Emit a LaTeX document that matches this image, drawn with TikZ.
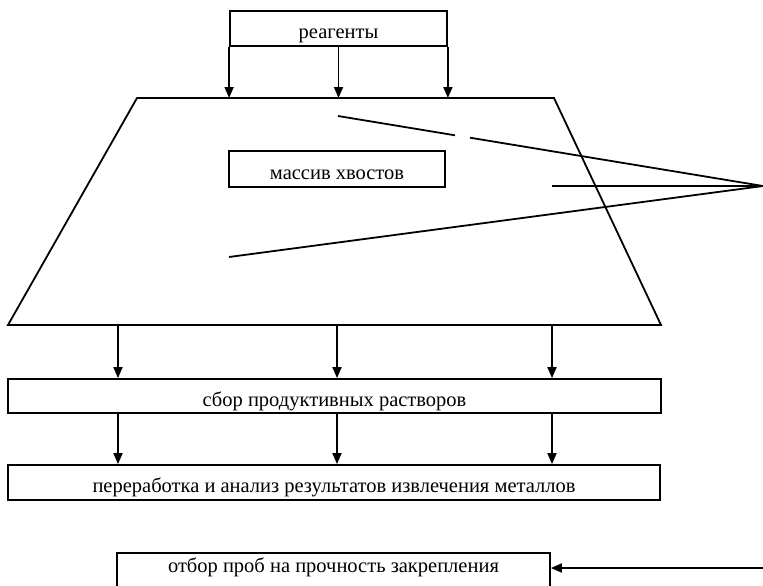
\documentclass[tikz,border=0pt]{standalone}
\usepackage{fontspec}
\setmainfont{Liberation Serif}
\usetikzlibrary{arrows.meta}
\newcommand{\lowtxt}[2][10pt]{\raisebox{-#1}{#2}}
\begin{document}
\begin{tikzpicture}[x=1pt,y=-1pt,
  ln/.style={line width=1.8pt, line join=miter},
  arr/.style={ln, -{Triangle[length=11pt,width=9pt]}},
  box/.style={draw, ln, inner sep=0pt, text height=5pt, text depth=5pt,
    font=\fontsize{20.5}{24}\selectfont}]
\useasboundingbox[fill=white] (0,0) rectangle (763,586);
% top box
\node[box, minimum width=217pt, minimum height=35pt] (reag) at (338.5,28.5) {\lowtxt{реагенты}};
% trapezoid
\coordinate (tl) at (137,98);
\coordinate (tr) at (554,98);
\coordinate (br) at (661,325);
\coordinate (bl) at (8,325);
\draw[ln] (tl) -- (tr) -- (br) -- (bl) -- cycle;
\draw[arr] (reag.south west) -- (reag.south west |- tl);
\draw[arr] (reag.south) -- (reag.south |- tl);
\draw[arr] (reag.south east) -- (reag.south east |- tl);
% inner box
\node[box, minimum width=216pt, minimum height=36pt] (mass) at (337,169) {\lowtxt{массив хвостов}};
% lines to apex
\coordinate (apex) at (763,186);
\coordinate (u1) at (338,116);
\coordinate (u2) at (455,135.3);
\coordinate (u3) at (470,137.7);
\coordinate (h1) at (552,186);
\coordinate (l1) at (229,257);
\draw[ln] (u1) -- (u2);
\draw[ln] (u3) -- (apex);
\draw[ln] (h1) -- (apex);
\draw[ln] (l1) -- (apex);
% lower boxes
\node[box, minimum width=653pt, minimum height=34pt] (sbor) at (334.5,396) {\lowtxt{сбор продуктивных растворов}};
\node[box, minimum width=652pt, minimum height=35pt] (pere) at (334,482.5) {\lowtxt{переработка и анализ результатов извлечения металлов}};
\coordinate (c1) at (118,325);
\coordinate (c2) at (337,325);
\coordinate (c3) at (552,325);
\foreach \c in {c1,c2,c3}{
  \draw[arr] (\c) -- (\c |- sbor.north);
  \draw[arr] (\c |- sbor.south) -- (\c |- pere.north);
}
% bottom box (cut by the lower margin)
\node[box, minimum width=433pt, minimum height=48pt, anchor=north] (otbor) at (333.5,552) {\lowtxt[-4pt]{отбор проб на прочность закрепления}};
\coordinate (src) at (763,568);
\draw[arr] (src) -- (src -| otbor.east);
\end{tikzpicture}
\end{document}
